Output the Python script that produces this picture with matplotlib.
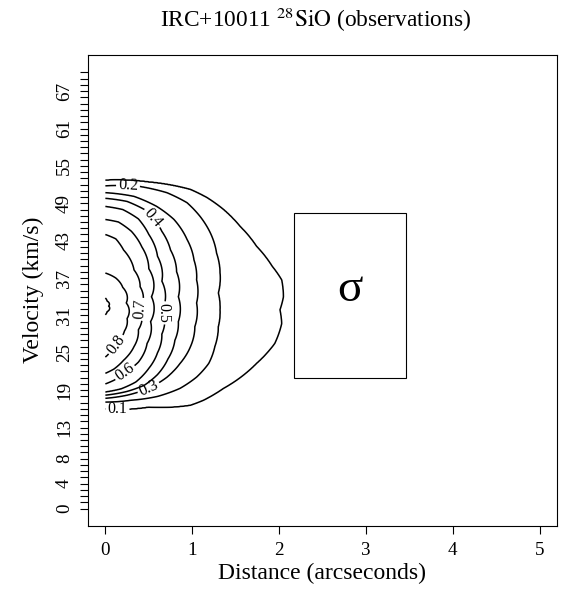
import numpy as np
import matplotlib
matplotlib.use("Agg")
import matplotlib.pyplot as plt
from matplotlib.patches import Rectangle

plt.rcParams['font.family'] = ['Liberation Serif', 'DejaVu Serif']
plt.rcParams['mathtext.fontset'] = 'stix'

# ---- data (distance in arcsec, velocity in km/s) ----
levels = [0.1, 0.2, 0.3, 0.4, 0.5, 0.6, 0.7, 0.8, 0.9]

c01_r = [0.00, 0.50, 0.98, 1.17, 1.36, 1.55, 1.74, 1.92, 2.03, 2.05, 2.01, 2.03, 1.95, 1.74, 1.51, 1.36, 1.13, 0.98, 0.50, 0.00]
c01_v = [52.7, 52.4, 51.2, 49.9, 48.0, 45.3, 42.1, 38.9, 36.7, 34.0, 31.9, 29.7, 26.5, 23.3, 20.6, 19.3, 17.4, 16.6, 16.3, 16.0]

c02_r = [0.00, 0.40, 0.71, 0.94, 1.09, 1.21, 1.28, 1.32, 1.30, 1.32, 1.30, 1.26, 1.19, 1.05, 0.86, 0.60, 0.30, 0.00]
c02_v = [51.8, 51.7, 50.7, 49.1, 46.9, 44.2, 41.0, 37.8, 34.6, 31.9, 29.2, 26.0, 23.3, 21.1, 19.3, 18.0, 17.4, 17.1]

c03_r = [0.00, 0.33, 0.59, 0.79, 0.94, 1.02, 1.05, 1.05, 1.03, 0.98, 0.86, 0.71, 0.50, 0.25, 0.00]
c03_v = [50.7, 50.1, 48.5, 46.4, 43.2, 39.9, 36.7, 33.0, 29.2, 26.0, 23.3, 21.1, 19.3, 18.2, 17.7]

c04_r = [0.00, 0.25, 0.45, 0.55, 0.65, 0.75, 0.82, 0.84, 0.84, 0.80, 0.72, 0.60, 0.45, 0.25, 0.00]
c04_v = [49.8, 49.3, 48.0, 46.7, 44.5, 41.5, 38.0, 34.0, 30.0, 27.0, 24.0, 21.5, 19.8, 18.8, 18.2]

c05_r = [0.00, 0.20, 0.38, 0.50, 0.60, 0.65, 0.66, 0.65, 0.60, 0.50, 0.35, 0.18, 0.00]
c05_v = [48.5, 48.0, 46.5, 44.0, 40.5, 36.5, 32.0, 28.0, 25.0, 22.5, 20.3, 19.2, 18.7]

c06_r = [0.00, 0.15, 0.30, 0.42, 0.50, 0.53, 0.52, 0.48, 0.38, 0.22, 0.10, 0.00]
c06_v = [46.4, 46.0, 44.5, 42.0, 38.5, 34.0, 30.0, 26.5, 23.5, 21.8, 20.6, 20.0]

c07_r = [0.00, 0.12, 0.21, 0.33, 0.40, 0.40, 0.38, 0.33, 0.21, 0.10, 0.00]
c07_v = [44.0, 43.3, 41.5, 38.3, 35.6, 32.0, 28.7, 26.0, 23.8, 22.4, 21.7]

c08_r = [0.00, 0.12, 0.20, 0.24, 0.25, 0.22, 0.13, 0.05, 0.00]
c08_v = [37.8, 37.0, 35.5, 33.0, 30.5, 28.5, 26.5, 25.0, 24.3]

c09_r = [0.00, 0.02, 0.035, 0.02, 0.00]
c09_v = [33.8, 33.3, 32.5, 31.6, 31.1]

peak_value = 0.93
line_center_v = 32.5

label_r = [0.14, 0.26, 0.50, 0.55, 0.66, 0.21, 0.40, 0.09]
label_v = [16.1, 51.7, 19.3, 46.7, 31.4, 22.2, 32.0, 26.6]

beam_r = [2.17, 3.46]
beam_v = [20.9, 47.5]

xticks = [0, 1, 2, 3, 4, 5]
yticks = [0, 4, 8, 13, 19, 25, 31, 37, 43, 49, 55, 61, 67]
yminor = list(range(0, 71))

# ---- build an intensity grid whose iso-lines follow the traced contours ----
traces = [(c09_r, c09_v), (c08_r, c08_v), (c07_r, c07_v), (c06_r, c06_v),
          (c05_r, c05_v), (c04_r, c04_v), (c03_r, c03_v), (c02_r, c02_v),
          (c01_r, c01_v)]
S = 10.0
rg = np.linspace(0, 2.6, 521)
vg = np.linspace(10, 58, 601)
R, V = np.meshgrid(rg, vg)
Y = (V - line_center_v) / S
theta = np.arctan2(R, Y)
dist = np.hypot(R, Y)
D = []
for tr, tv in traces:
    tr = np.asarray(tr, float)
    ty = (np.asarray(tv, float) - line_center_v) / S
    th = np.arctan2(tr, ty)
    dd = np.hypot(tr, ty)
    o = np.argsort(th)
    D.append(np.interp(theta, th[o], dd[o]))
for k in range(1, len(D)):
    D[k] = np.maximum(D[k], D[k - 1] + 1e-4)
xs = [np.zeros_like(dist)] + D + [D[-1] * 1.6]
ys = [peak_value] + sorted(levels, reverse=True) + [0.0]
I = np.zeros_like(dist)
for k in range(len(xs) - 1):
    a, b = xs[k], xs[k + 1]
    m = (dist >= a) & (dist < b)
    t = (dist - a) / (b - a)
    I[m] = ys[k] + (ys[k + 1] - ys[k]) * t[m]

# ---- figure ----
fig = plt.figure(figsize=(5.61, 5.90), dpi=100)
ax = fig.add_axes([88 / 561, 64 / 590, 469 / 561, 471 / 590])
ax.set_xlim(-0.2, 5.2)
ax.set_ylim(-2.8, 72.8)

cs = ax.contour(R, V, I, levels=levels, colors='black', linewidths=1.1)
cs.clabel(levels, manual=list(zip(label_r, label_v)), fmt='%.1f',
          fontsize=11.5, inline=True, inline_spacing=2)

ax.add_patch(Rectangle((beam_r[0], beam_v[0]), beam_r[1] - beam_r[0],
                       beam_v[1] - beam_v[0], fill=False, ec='black', lw=0.8))
ax.text(np.mean(beam_r), 35.1, 'σ', fontsize=34, ha='center', va='center')

ax.set_xticks(xticks)
ax.set_xticklabels([str(t) for t in xticks])
ax.set_yticks(yticks)
ax.set_yticklabels([str(t) for t in yticks], rotation=90, va='center')
ax.set_yticks(yminor, minor=True)
ax.tick_params(axis='both', which='both', length=5.8, width=0.8,
               labelsize=13.7, color='black')
ax.tick_params(axis='x', pad=6)
ax.tick_params(axis='y', pad=5)
for s in ax.spines.values():
    s.set_linewidth(0.8)

fig.text(316 / 561, 1 - 20 / 590, r'IRC+10011 $^{28}\mathrm{SiO}$ (observations)',
         ha='center', va='center', fontsize=16.8)
fig.text(322 / 561, 1 - 573 / 590, 'Distance (arcseconds)',
         ha='center', va='center', fontsize=17)
fig.text(33 / 561, 1 - 290 / 590, 'Velocity (km/s)', rotation=90,
         ha='center', va='center', fontsize=17)

fig.savefig('out.png', dpi=100)
